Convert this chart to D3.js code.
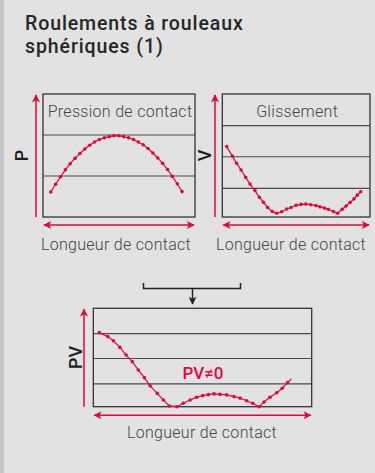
<!DOCTYPE html>
<html>
<head>
<meta charset="utf-8">
<script src="https://cdn.jsdelivr.net/npm/d3@7"></script>
<style>
  html, body { margin: 0; padding: 0; background: #e2e2e2; }
  svg { display: block; font-family: Roboto, "DejaVu Sans", sans-serif; }
</style>
</head>
<body>
<svg id="chart" width="375" height="473"></svg>
<script>
// x: position along the contact length (0-100 % of box width), y: value in grid rows
var pressionX = [5.1, 8.3, 11.5, 14.7, 17.9, 21.1, 24.3, 27.5, 30.7, 33.9, 37.1, 40.3, 43.5, 46.7,
  49.9, 53.1, 56.3, 59.5, 62.7, 65.9, 69.1, 72.3, 75.5, 78.7, 81.9, 85.1, 88.3, 91.5];
var pressionY = [0.61, 0.80, 0.98, 1.15, 1.30, 1.43, 1.55, 1.66, 1.75, 1.83, 1.89, 1.93, 1.96, 1.98,
  1.98, 1.96, 1.93, 1.89, 1.83, 1.76, 1.67, 1.56, 1.44, 1.31, 1.16, 0.99, 0.81, 0.62];

var glissementX = [3.0, 6.8, 9.7, 12.7, 15.8, 18.8, 22.1, 25.1, 27.8, 30.7, 33.9, 36.8, 40.2, 43.6,
  46.5, 49.9, 53.3, 56.5, 59.9, 63.4, 66.1, 69.1, 71.8, 75.2, 78.1, 81.2, 83.8, 86.5, 89.2, 91.4, 93.7];
var glissementY = [2.29, 1.98, 1.75, 1.53, 1.29, 1.07, 0.86, 0.64, 0.48, 0.31, 0.18, 0.12, 0.17, 0.26,
  0.31, 0.38, 0.41, 0.42, 0.40, 0.37, 0.33, 0.29, 0.25, 0.18, 0.12, 0.25, 0.36, 0.47, 0.59, 0.71, 0.82];

var pvX = [2.75, 6.6, 9.2, 12.2, 15.0, 17.9, 20.6, 23.4, 26.0, 29.3, 32.1, 34.8, 38.2, 41.2, 44.3, 47.3,
  50.1, 52.7, 55.3, 58.0, 61.1, 64.4, 67.2, 70.2, 73.0, 75.9, 78.2, 80.9, 84.0, 86.5, 89.0, 90.7];
var pvY = [3.01, 2.85, 2.68, 2.41, 2.10, 1.83, 1.49, 1.18, 0.85, 0.54, 0.27, 0.03, 0.0, 0.14, 0.27, 0.38,
  0.45, 0.49, 0.52, 0.50, 0.48, 0.41, 0.35, 0.24, 0.14, 0.0, 0.19, 0.38, 0.57, 0.75, 0.98, 1.13];

var titleLines = ["Roulements à rouleaux", "sphériques (1)"];
var xLabel = "Longueur de contact";
var gridP = [1, 2];
var gridV = [0.93, 1.96, 2.97];

var red = "#e3063a",
  svg = d3.select("#chart"),
  defs = svg.append("defs");

svg.append("rect").attr("width", 375).attr("height", 473).attr("fill", "#e2e2e2");
svg.append("rect").attr("width", 4).attr("height", 473).attr("fill", "#c6c6c6");

// arrow markers
[["arrowRed", red], ["arrowBlack", "#222"]].forEach(function(m) {
  defs.append("marker")
    .attr("id", m[0])
    .attr("viewBox", "0 0 10 10")
    .attr("refX", 9)
    .attr("refY", 5)
    .attr("markerWidth", 10)
    .attr("markerHeight", 8)
    .attr("markerUnits", "userSpaceOnUse")
    .attr("orient", "auto-start-reverse")
    .append("path")
      .attr("d", "M0,0 L10,5 L0,10 L2.5,5 Z")
      .attr("fill", m[1]);
});

svg.selectAll(".title")
  .data(titleLines)
  .enter()
  .append("text")
    .attr("class", "title")
    .attr("x", 25)
    .attr("y", function(d, i) { return 30 + i * 23; })
    .attr("fill", "#262626")
    .attr("font-size", 19.5)
    .attr("font-weight", 500)
    .attr("letter-spacing", 0.9)
    .text(function(d) { return d; });

function panel(cfg) {
  var g = svg.append("g"),
    x = d3.scaleLinear().domain([0, 100]).range([cfg.left, cfg.right]),
    y = d3.scaleLinear().domain([0, cfg.rows]).range([cfg.bottom, cfg.top]),
    pts = cfg.xs.map(function(d, i) { return [d, cfg.ys[i]]; }),
    line = d3.line()
      .x(function(d) { return x(d[0]); })
      .y(function(d) { return y(d[1]); });

  g.selectAll(".grid")
    .data(cfg.grid)
    .enter()
    .append("line")
      .attr("x1", x(0)).attr("x2", x(100))
      .attr("y1", function(d) { return y(d); })
      .attr("y2", function(d) { return y(d); })
      .attr("stroke", "#4a4a4a")
      .attr("stroke-width", 1.2);

  g.append("rect")
    .attr("x", x(0)).attr("y", y(cfg.rows))
    .attr("width", x(100) - x(0)).attr("height", y(0) - y(cfg.rows))
    .attr("fill", "none")
    .attr("stroke", "#333")
    .attr("stroke-width", 1.3);

  if (cfg.title) {
    g.append("text")
      .attr("x", (x(0) + x(100)) / 2 + 1)
      .attr("y", y(cfg.rows) + 23)
      .attr("text-anchor", "middle")
      .attr("fill", "#444")
      .attr("font-size", 16)
      .attr("font-weight", 300)
      .attr("letter-spacing", 0.3)
      .text(cfg.title);
  }

  g.append("path")
    .attr("d", line(pts))
    .attr("fill", "none")
    .attr("stroke", red)
    .attr("stroke-width", 1.2);

  g.selectAll(".dot")
    .data(pts.slice(0, cfg.dots || pts.length))
    .enter()
    .append("circle")
      .attr("cx", function(d) { return x(d[0]); })
      .attr("cy", function(d) { return y(d[1]); })
      .attr("r", 1.8)
      .attr("fill", red);

  // value axis arrow
  g.append("line")
    .attr("x1", cfg.axisX).attr("x2", cfg.axisX)
    .attr("y1", y(0)).attr("y2", y(cfg.rows) + 1)
    .attr("stroke", red)
    .attr("stroke-width", 1.5)
    .attr("marker-end", "url(#arrowRed)");

  g.append("text")
    .attr("transform", "translate(" + cfg.labelX + "," + (y(0) + y(cfg.rows)) / 2 + ") rotate(-90)")
    .attr("text-anchor", "middle")
    .attr("fill", "#1e1e1e")
    .attr("font-size", cfg.labelSize)
    .attr("font-weight", 500)
    .text(cfg.label);

  // length arrow
  g.append("line")
    .attr("x1", x(0) + 1).attr("x2", x(100) - 1)
    .attr("y1", y(0) + cfg.arrowGap).attr("y2", y(0) + cfg.arrowGap)
    .attr("stroke", red)
    .attr("stroke-width", 1.5)
    .attr("marker-start", "url(#arrowRed)")
    .attr("marker-end", "url(#arrowRed)");

  g.append("text")
    .attr("x", cfg.xLabelX)
    .attr("y", cfg.xLabelY)
    .attr("text-anchor", "middle")
    .attr("fill", "#444")
    .attr("font-size", 16)
    .attr("font-weight", 300)
    .attr("letter-spacing", 0.3)
    .text(xLabel);

  return { g: g, x: x, y: y };
}

panel({
  left: 43, right: 195, top: 94, bottom: 217, rows: 3, grid: gridP,
  xs: pressionX, ys: pressionY, title: "Pression de contact",
  axisX: 36, label: "P", labelX: 28, labelSize: 18, arrowGap: 8,
  xLabelX: 116, xLabelY: 250
});

panel({
  left: 222.3, right: 370, top: 94, bottom: 217, rows: 4, grid: gridV,
  xs: glissementX, ys: glissementY, title: "Glissement",
  axisX: 215, label: "V", labelX: 211, labelSize: 18, arrowGap: 8,
  xLabelX: 291, xLabelY: 250
});

var pv = panel({
  left: 93.3, right: 311.7, top: 308.3, bottom: 406.7, rows: 4, grid: gridV,
  xs: pvX, ys: pvY, dots: pvX.length - 1,
  axisX: 84, label: "PV", labelX: 82, labelSize: 18, arrowGap: 8.5,
  xLabelX: 202, xLabelY: 438
});

pv.g.append("text")
  .attr("x", 203)
  .attr("y", 378.5)
  .attr("text-anchor", "middle")
  .attr("fill", red)
  .attr("font-size", 17)
  .attr("font-weight", 500)
  .text("PV≠0");

// bracket joining the two upper charts
svg.append("path")
  .attr("d", "M143.5,283 V288.5 H240.5 V283")
  .attr("fill", "none")
  .attr("stroke", "#222")
  .attr("stroke-width", 1.5);

svg.append("line")
  .attr("x1", 192.5).attr("x2", 192.5)
  .attr("y1", 288.5).attr("y2", 304)
  .attr("stroke", "#222")
  .attr("stroke-width", 1.5)
  .attr("marker-end", "url(#arrowBlack)");
</script>
</body>
</html>
